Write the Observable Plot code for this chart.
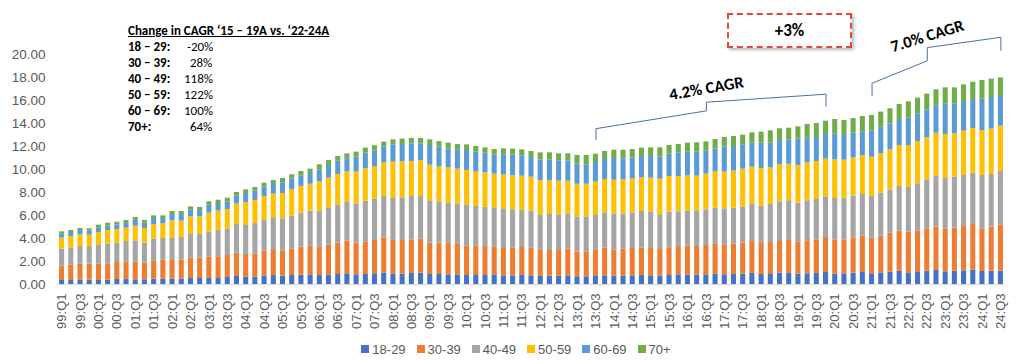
<!DOCTYPE html>
<html>
<head>
<meta charset="utf-8">
<script src="https://cdn.jsdelivr.net/npm/d3@7"></script>
<script src="https://cdn.jsdelivr.net/npm/@observablehq/plot@0.6"></script>
<style>
  html, body { margin: 0; padding: 0; background: #fff; }
  #wrap { position: relative; width: 1024px; height: 360px; overflow: hidden; font-family: "Liberation Sans", Arial, sans-serif; }
  #note { position: absolute; left: 128px; top: 23px; font-family: Carlito, Lato, "Open Sans", sans-serif; font-size: 13px; color: #000; line-height: 16px; }
  #note .t { font-weight: bold; text-decoration: underline; }
  #note .r b { display: inline-block; width: 56px; }
  #box { position: absolute; left: 727px; top: 13px; width: 121px; height: 31px; border: 2px dashed #e8453c; box-shadow: 2px 2px 3px rgba(0,0,0,0.28); font-family: Carlito, Lato, sans-serif; font-weight: bold; font-size: 17px; display: flex; align-items: center; justify-content: center; background: #fff; }
  #legend { position: absolute; left: 0; top: 338px; width: 1024px; height: 22px; display: flex; justify-content: center; gap: 11px; font-size: 13px; color: #595959; padding-left: 8px; box-sizing: border-box; }
  #legend span { display: inline-flex; align-items: center; }
  #legend i { display: inline-block; width: 8px; height: 8px; margin-right: 3px; }
</style>
</head>
<body>
<div id="wrap">
  <div id="chart"></div>
  <div id="note"></div>
  <div id="box">+3%</div>
  <div id="legend"></div>
</div>
<script>
const years = ["99","00","01","02","03","04","05","06","07","08","09","10","11","12","13","14","15","16","17","18","19","20","21","22","23","24"];
const quarterNames = ["Q1","Q2","Q3","Q4"];
const quarters = [];
for (const y of years) for (const q of quarterNames) { if (y === "24" && q === "Q4") continue; quarters.push(y + ":" + q); }
const tickQuarters = quarters.filter(q => q.endsWith("Q1") || q.endsWith("Q3"));

const groups = ["18-29","30-39","40-49","50-59","60-69","70+"];
const colors = ["#4472C4","#ED7D31","#A5A5A5","#FFC000","#5B9BD5","#70AD47"];

const s1829 = [0.35,0.35,0.38,0.38,0.35,0.38,0.43,0.43,0.41,0.41, 0.46,0.46,0.46,0.46,0.52,0.52,0.52,0.52,0.61,0.70, 0.64,0.64,0.75,0.78,0.72,0.78,0.81,0.84,0.78,0.81, 0.87,0.93,0.84,0.87,0.93,1.01,0.90,0.90,0.96,0.99, 0.87,0.87,0.84,0.84,0.78,0.78,0.78,0.84,0.75,0.75, 0.78,0.75,0.70,0.72,0.72,0.75,0.67,0.67,0.70,0.75, 0.72,0.72,0.75,0.78,0.75,0.72,0.78,0.84,0.81,0.81, 0.84,0.90,0.84,0.87,0.90,0.96,0.87,0.87,0.99,1.01, 0.90,0.93,0.96,1.04,0.90,0.93,0.99,1.04,0.93,1.01, 1.07,1.16,1.01,1.10,1.16,1.22,1.10,1.16,1.19,1.25, 1.13,1.16,1.16];
const s3039 = [1.24,1.33,1.39,1.39,1.42,1.42,1.48,1.54,1.53,1.45, 1.60,1.66,1.63,1.66,1.77,1.77,1.86,1.89,1.91,2.05, 1.97,2.03,2.15,2.26,2.21,2.32,2.44,2.52,2.50,2.61, 2.72,2.84,2.75,2.84,2.90,3.05,2.93,2.93,2.92,2.95, 2.72,2.72,2.73,2.70,2.55,2.55,2.52,2.44,2.38,2.41, 2.44,2.41,2.26,2.24,2.24,2.32,2.14,2.17,2.26,2.41, 2.29,2.35,2.38,2.38,2.38,2.32,2.41,2.46,2.52,2.49, 2.55,2.64,2.61,2.64,2.69,2.78,2.70,2.78,2.75,2.82, 2.78,2.87,2.90,3.05,2.98,2.95,3.07,3.16,3.10,3.19, 3.39,3.48,3.54,3.57,3.68,3.77,3.71,3.74,3.85,3.97, 3.71,3.83,4.03];
const s4049 = [1.48,1.48,1.53,1.53,1.62,1.71,1.68,1.77,1.86,1.73, 1.88,1.88,1.97,1.97,2.06,2.06,2.17,2.29,2.29,2.47, 2.52,2.63,2.67,2.76,2.78,2.84,2.95,3.02,3.10,3.25, 3.34,3.36,3.42,3.54,3.59,3.59,3.65,3.71,3.77,3.71, 3.69,3.57,3.53,3.47,3.60,3.45,3.42,3.39,3.45,3.33, 3.21,3.22,3.10,3.13,3.10,3.07,3.05,3.04,3.04,3.07, 3.11,3.07,3.10,3.19,3.19,3.02,3.10,3.02,3.05,3.11, 3.10,3.10,3.13,3.13,3.16,3.27,3.27,3.31,3.45,3.45, 3.39,3.48,3.53,3.53,3.60,3.63,3.62,3.63,3.62,3.74, 3.77,3.88,3.91,4.08,4.26,4.43,4.41,4.43,4.44,4.46, 4.64,4.58,4.64];
const s5059 = [0.96,1.01,1.02,0.99,1.13,1.19,1.19,1.16,1.27,1.28, 1.28,1.28,1.48,1.42,1.53,1.51,1.65,1.68,1.71,1.77, 2.00,2.00,2.08,2.06,2.20,2.29,2.32,2.34,2.55,2.58, 2.64,2.67,2.76,2.81,2.84,2.93,3.16,3.13,3.05,3.10, 3.10,3.07,3.04,3.02,2.98,3.02,2.99,2.92,2.96,2.96, 2.99,2.95,2.98,2.92,2.93,2.85,2.86,2.84,2.90,2.90, 2.95,2.96,2.96,2.93,2.93,3.10,3.10,3.07,3.07,3.01, 3.10,3.16,3.19,3.22,3.28,3.19,3.25,3.18,3.24,3.18, 3.28,3.30,3.31,3.28,3.36,3.30,3.33,3.39,3.42,3.45, 3.48,3.54,3.60,3.66,3.65,3.74,3.82,3.77,3.85,3.89, 3.91,3.94,3.94];
const s6069 = [0.38,0.35,0.38,0.35,0.41,0.37,0.38,0.40,0.50,0.46, 0.52,0.46,0.55,0.58,0.61,0.57,0.70,0.66,0.67,0.69, 0.78,0.82,0.84,0.84,0.93,0.93,0.93,0.93,1.04,1.10, 1.15,1.13,1.30,1.36,1.33,1.36,1.50,1.50,1.53,1.48, 1.71,1.71,1.66,1.68,1.74,1.71,1.71,1.66,1.74,1.80, 1.77,1.71,1.80,1.83,1.76,1.76,1.77,1.69,1.71,1.74, 1.89,1.83,1.82,1.85,1.88,1.94,1.94,2.03,2.06,2.09, 2.00,1.97,2.17,2.14,2.11,2.09,2.20,2.15,2.09,2.09, 2.29,2.14,2.08,2.14,2.26,2.23,2.15,2.06,2.26,2.29, 2.26,2.29,2.43,2.43,2.41,2.38,2.67,2.61,2.58,2.52, 2.73,2.75,2.58];
const s70 = [0.17,0.18,0.17,0.20,0.23,0.26,0.26,0.27,0.26,0.24, 0.23,0.23,0.26,0.26,0.26,0.27,0.29,0.29,0.32,0.32, 0.32,0.31,0.32,0.34,0.38,0.38,0.38,0.38,0.44,0.43, 0.41,0.43,0.44,0.44,0.47,0.44,0.44,0.47,0.47,0.47, 0.49,0.49,0.49,0.46,0.49,0.49,0.46,0.49,0.52,0.52, 0.52,0.53,0.61,0.61,0.61,0.61,0.73,0.81,0.72,0.70, 0.72,0.75,0.73,0.73,0.75,0.78,0.76,0.75,0.78,0.81, 0.82,0.84,0.84,0.87,0.85,0.90,0.96,1.07,1.02,1.04, 1.07,1.19,1.22,1.16,1.25,1.22,1.27,1.33,1.37,1.31, 1.31,1.30,1.39,1.36,1.39,1.39,1.39,1.39,1.45,1.50, 1.62,1.60,1.62];
const series = [s1829, s3039, s4049, s5059, s6069, s70];

const yTicks = [0,2,4,6,8,10,12,14,16,18,20];

// annotation text
const noteTitle = "Change in CAGR \u201815 \u2013 19A vs. \u201822-24A";
const noteLabels = ["18 \u2013 29:", "30 \u2013 39:", "40 \u2013 49:", "50 \u2013 59:", "60 \u2013 69:", "70+:"];
const noteValues = ["\u00a0-20%", "\u00a0\u00a028%", "118%", "122%", "100%", "\u00a0\u00a064%"];

// bracket annotations, in chart coordinates (quarter, value)
const bracket42 = [["13:Q3",12.6],["13:Q3",13.55],["16:Q3",15.1],["16:Q3",15.85],["19:Q4",16.55],["19:Q4",15.5]];
const bracket70 = [["21:Q1",16.4],["21:Q1",17.5],["22:Q3",19.45],["22:Q3",20.6],["24:Q3",21.5],["24:Q3",20.35]];
const cagrLabels = [
  {q: "16:Q3", v: 17.05, text: "4.2% CAGR", rotate: -10},
  {q: "22:Q3", v: 21.6, text: "7.0% CAGR", rotate: -17}
];

const data = [];
groups.forEach((g, gi) => quarters.forEach((q, qi) => data.push({q, group: g, value: series[gi][qi]})));
const brackets = [
  ...bracket42.map(([q, v]) => ({q, v, id: "a"})),
  ...bracket70.map(([q, v]) => ({q, v, id: "b"}))
];

const chart = Plot.plot({
  width: 1024,
  height: 338,
  marginLeft: 57,
  marginRight: 19,
  marginTop: 54,
  marginBottom: 54,
  style: {fontFamily: "'Liberation Sans', Arial, sans-serif", color: "#595959", background: "transparent", overflow: "visible"},
  x: {domain: quarters, paddingInner: 0.45, paddingOuter: 0.225, round: false, label: null},
  y: {domain: [0, 20], label: null},
  color: {domain: groups, range: colors},
  marks: [
    Plot.barY(data, {x: "q", y: "value", fill: "group", order: groups}),
    Plot.ruleY([0], {stroke: "#d9d9d9", strokeWidth: 1}),
    Plot.axisY({ticks: yTicks, tickFormat: d3.format(".2f"), tickSize: 0, tickPadding: 12, fontSize: 13.5, label: null}),
    Plot.axisX({ticks: tickQuarters, tickRotate: -90, tickSize: 0, tickPadding: 9, fontSize: 13, label: null}),
    Plot.line(brackets, {x: "q", y: "v", z: "id", stroke: "#4a6ea8", strokeWidth: 1}),
    Plot.text(cagrLabels, {x: "q", y: "v", text: "text", rotate: "rotate", fontWeight: "bold", fontSize: 16.5, fill: "#000", fontFamily: "Carlito, Lato, sans-serif"})
  ]
});
document.getElementById("chart").appendChild(chart);

const note = document.getElementById("note");
note.innerHTML = `<div class="t">${noteTitle}</div>` + noteLabels.map((l, i) => `<div class="r"><b>${l}</b>${noteValues[i]}</div>`).join("");

const legend = document.getElementById("legend");
legend.innerHTML = groups.map((g, i) => `<span><i style="background:${colors[i]}"></i>${g}</span>`).join("");
</script>
</body>
</html>
